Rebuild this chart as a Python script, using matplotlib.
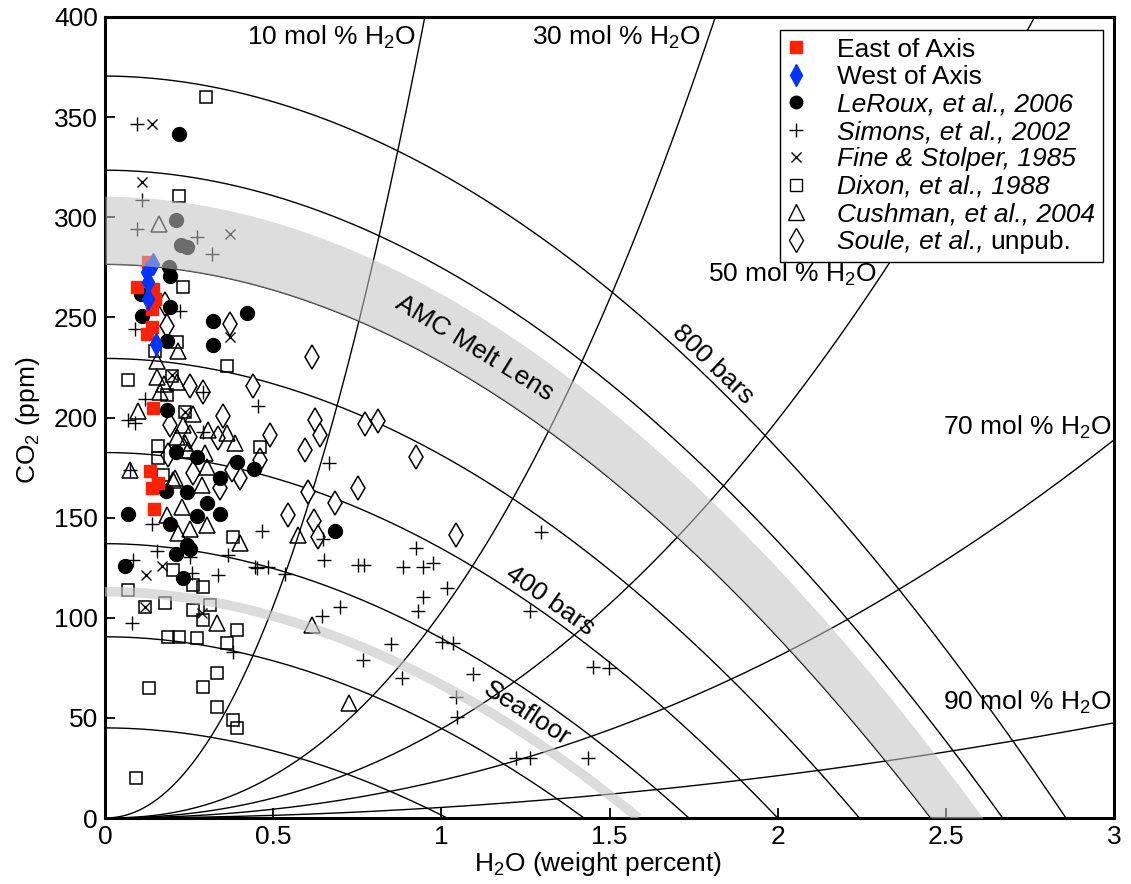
import numpy as np
import matplotlib
matplotlib.use('Agg')
import matplotlib.pyplot as plt
from matplotlib.lines import Line2D
import matplotlib.transforms as mtransforms

plt.rcParams['font.family'] = ['Liberation Sans', 'DejaVu Sans']
plt.rcParams['mathtext.fontset'] = 'custom'
plt.rcParams['mathtext.rm'] = 'Liberation Sans'
plt.rcParams['mathtext.it'] = 'Liberation Sans:italic'
plt.rcParams['mathtext.bf'] = 'Liberation Sans:bold'
FS = 19

# ---------------- model reference curves ----------------
isobar_bars = [100, 200, 300, 400, 500, 600, 700, 800]
isobar_co2_at_zero_h2o = [45, 90.5, 137, 182.5, 229.5, 276.5, 323.5, 370.5]
isobar_h2o_at_zero_co2 = [1.017, 1.424, 1.736, 2.0, 2.243, 2.455, 2.669, 2.857]
isobar_shape_exp = 1.93

isopleth_mol_pct = [10, 30, 50, 70, 90]
isopleth_coef = [444.0, 102.8, 44.5, 18.8, 5.28]
isopleth_exp = [2.07, 2.28, 2.16, 2.10, 2.0]

amc_band_low = (276.5, 2.455)
amc_band_high = (310.5, 2.61)
seafloor_curve = (113.0, 1.586)

# ---------------- data ----------------
east_h2o = [0.128, 0.095, 0.143, 0.149, 0.140, 0.140, 0.125, 0.143, 0.134, 0.158, 0.140, 0.146]
east_co2 = [277.5, 265, 264, 259, 254, 245, 241.5, 204.5, 173.5, 167.5, 165, 154.5]

west_h2o = [0.143, 0.125, 0.128, 0.128, 0.152]
west_co2 = [276.5, 272.5, 267.5, 259, 236.5]

leroux_h2o = [0.220, 0.211, 0.226, 0.244, 0.190, 0.193, 0.107, 0.193, 0.110, 0.321, 0.422,
              0.321, 0.184, 0.184, 0.211, 0.274, 0.392, 0.443, 0.342, 0.181, 0.244, 0.303,
              0.068, 0.274, 0.342, 0.193, 0.684, 0.244, 0.253, 0.211, 0.059, 0.232]
leroux_co2 = [341.5, 298.5, 286, 285, 275, 270.5, 261.5, 255, 250.5, 248, 252,
              236, 238, 203.5, 183, 180.5, 178, 174.5, 170, 163.5, 163, 157.5,
              152, 151, 152, 147, 143.5, 136.5, 134.5, 132, 126, 120]

simons_h2o = [0.095, 0.110, 0.095, 0.273, 0.318, 0.223, 0.089, 0.455, 0.119, 0.291, 0.068,
              0.089, 0.291, 0.074, 0.666, 0.140, 0.467, 0.648, 0.155, 0.253, 0.366, 0.083,
              0.446, 0.452, 0.485, 0.535, 0.651, 0.259, 0.336, 0.080, 0.699, 0.645, 0.380,
              0.752, 0.770, 0.886, 0.925, 0.946, 0.975, 1.017, 0.946, 0.931, 0.767, 0.850,
              0.883, 1.002, 1.035, 1.094, 1.044, 1.047, 1.264, 1.222, 1.264, 1.436, 1.451,
              1.499, 1.296]
simons_co2 = [346.5, 308.5, 294, 290, 281.5, 253, 244, 205.5, 209, 212.5, 199,
              197.5, 193, 174, 177.5, 147, 143.5, 139.5, 133.5, 130.5, 131.5, 129,
              125.5, 125, 125.5, 122, 129, 122.5, 121.5, 97.5, 105.5, 101, 83,
              126.5, 126.5, 125.5, 135, 125.5, 127.5, 115, 110.5, 103.5, 79, 87,
              70, 88, 87.5, 72, 60.5, 50.5, 103.5, 30, 30, 30, 75.5,
              75, 143]

fine_h2o = [0.140, 0.110, 0.372, 0.372, 0.200, 0.170, 0.122, 0.288, 0.119, 0.238]
fine_co2 = [346.5, 317.5, 291.5, 240, 221, 126, 121.5, 102.5, 105.5, 202.5]

dixon_h2o = [0.300, 0.220, 0.232, 0.214, 0.149, 0.363, 0.068, 0.199, 0.184, 0.238, 0.158,
             0.461, 0.158, 0.172, 0.381, 0.202, 0.262, 0.291, 0.068, 0.119, 0.178, 0.312,
             0.262, 0.291, 0.392, 0.187, 0.220, 0.274, 0.363, 0.333, 0.131, 0.291, 0.333,
             0.381, 0.392, 0.092]
dixon_co2 = [360, 310.5, 265, 237.5, 233, 225.5, 218.5, 220.5, 211, 202.5, 186,
             185.5, 180, 171.5, 140.5, 124, 116.5, 115.5, 114, 105.5, 107.5, 106.5,
             104, 99, 94, 90.5, 90.5, 90, 87.5, 72.5, 65, 65.5, 55.5,
             49, 45, 20]

cushman_h2o = [0.161, 0.217, 0.155, 0.155, 0.214, 0.175, 0.164, 0.098, 0.262, 0.232, 0.306,
               0.363, 0.387, 0.214, 0.238, 0.247, 0.297, 0.074, 0.303, 0.208, 0.288, 0.202,
               0.184, 0.229, 0.217, 0.253, 0.303, 0.574, 0.401, 0.333, 0.616, 0.726]
cushman_co2 = [296.5, 233, 228, 220, 217.5, 216.5, 212.5, 203, 201.5, 196.5, 194,
               192.5, 187.5, 190.5, 187.5, 184, 182.5, 174, 175.5, 170, 166.5, 169,
               151.5, 155.5, 142.5, 144.5, 146.5, 141.5, 137.5, 97.5, 96.5, 57.5]

soule_h2o = [0.616, 0.178, 0.372, 0.184, 0.253, 0.291, 0.440, 0.351, 0.193, 0.336, 0.491,
             0.253, 0.624, 0.639, 0.595, 0.461, 0.187, 0.262, 0.401, 0.378, 0.342, 0.604,
             0.544, 0.621, 0.684, 0.633, 0.773, 0.812, 0.925, 0.752, 1.044]
soule_co2 = [230, 256.5, 246.5, 245.5, 215.5, 212.5, 215.5, 200.5, 196.5, 190, 191.5,
             190.5, 199, 191.5, 184, 179, 181.5, 172.5, 170, 174, 165, 163,
             151.5, 148.5, 157.5, 140.5, 197, 198.5, 180.5, 165, 141.5]

# ---------------- figure ----------------
W_PX, H_PX = 1131, 884
fig = plt.figure(figsize=(W_PX / 100, H_PX / 100), dpi=100)
ax = fig.add_axes([105 / W_PX, 66 / H_PX, 1009 / W_PX, 801 / H_PX])
ax.set_xlim(0, 3)
ax.set_ylim(0, 400)


def isobar(C, W, h):
    return C * (1 - np.clip(h / W, 0, None) ** isobar_shape_exp)


for C, W in zip(isobar_co2_at_zero_h2o, isobar_h2o_at_zero_co2):
    h = np.linspace(0, W, 400)
    ax.plot(h, isobar(C, W, h), color='black', lw=1.0, zorder=2)

hh = np.linspace(0, 3, 600)
for k, n in zip(isopleth_coef, isopleth_exp):
    ax.plot(hh, k * hh ** n, color='black', lw=1.0, zorder=2)

# scatter data
ax.plot(soule_h2o, soule_co2, ls='none', marker='d', ms=12, mfc='white', mec='black', mew=1.1, zorder=3)
ax.plot(cushman_h2o, cushman_co2, ls='none', marker='^', ms=12, mfc='none', mec='black', mew=1.1, zorder=3)
ax.plot(dixon_h2o, dixon_co2, ls='none', marker='s', ms=9, mfc='none', mec='black', mew=1.1, zorder=3)
ax.plot(fine_h2o, fine_co2, ls='none', marker='x', ms=7.5, mec='black', mew=1.0, zorder=3)
ax.plot(simons_h2o, simons_co2, ls='none', marker='+', ms=10.5, mec='black', mew=1.0, zorder=3)
ax.plot(leroux_h2o, leroux_co2, ls='none', marker='o', ms=10, mfc='black', mec='black', zorder=3)
ax.plot(east_h2o, east_co2, ls='none', marker='s', ms=9, mfc='#ff2200', mec='#ff2200', zorder=3.2)
ax.plot(west_h2o, west_co2, ls='none', marker='d', ms=11, mfc='#0033ff', mec='#0033ff', zorder=3.3)

# AMC melt lens band (semi-transparent, over everything)
hb = np.linspace(0, amc_band_high[1], 500)
lo = np.clip(isobar(amc_band_low[0], amc_band_low[1], hb), 0, None)
hi = np.clip(isobar(amc_band_high[0], amc_band_high[1], hb), 0, None)
ax.fill_between(hb, lo, hi, color=(0.77, 0.77, 0.77), alpha=0.56, lw=0, zorder=5)

# seafloor curve
hs = np.linspace(0, seafloor_curve[1], 300)
ax.plot(hs, isobar(seafloor_curve[0], seafloor_curve[1], hs), color=(0.78, 0.78, 0.78),
        alpha=0.62, lw=7, solid_capstyle='butt', zorder=5)


def curve_label(text, h0, C, W, off_px):
    y0 = isobar(C, W, h0)
    dh = 1e-3
    y1 = isobar(C, W, h0 + dh)
    p0 = ax.transData.transform((h0, y0))
    p1 = ax.transData.transform((h0 + dh, y1))
    d = p1 - p0
    ang = np.degrees(np.arctan2(d[1], d[0]))
    nv = np.array([-d[1], d[0]]) / np.hypot(*d)
    pt = ax.transData.inverted().transform(p0 + nv * off_px)
    ax.text(pt[0], pt[1], text, rotation=ang, rotation_mode='anchor',
            ha='center', va='center', fontsize=FS, zorder=6)


curve_label('AMC Melt Lens', 1.10, (amc_band_low[0] + amc_band_high[0]) / 2,
            (amc_band_low[1] + amc_band_high[1]) / 2, 0)
curve_label('800 bars', 1.78, isobar_co2_at_zero_h2o[7], isobar_h2o_at_zero_co2[7], 13)
curve_label('400 bars', 1.30, isobar_co2_at_zero_h2o[3], isobar_h2o_at_zero_co2[3], 13)
curve_label('Seafloor', 1.224, seafloor_curve[0], seafloor_curve[1], 18)

iso_label_pos = [(0.925, 390), (1.772, 390), (2.296, 271.5), (2.993, 195), (2.993, 57.5)]
for pct, (xp, yp) in zip(isopleth_mol_pct, iso_label_pos):
    ax.text(xp, yp, f'{pct} mol % H$_2$O', ha='right', va='center', fontsize=FS, zorder=6)

# axes styling
ax.set_xticks([0, 0.5, 1, 1.5, 2, 2.5, 3])
ax.set_xticklabels(['0', '0.5', '1', '1.5', '2', '2.5', '3'])
ax.set_yticks(np.arange(0, 401, 50))
ax.tick_params(direction='in', length=7, width=1.3, labelsize=FS, top=False, right=False)
ax.tick_params(axis='x', pad=5)
ax.tick_params(axis='y', pad=5)
for s in ax.spines.values():
    s.set_linewidth(2.2)

fig.text(598 / W_PX, 1 - 864 / H_PX, 'H$_2$O (weight percent)', ha='center', va='center', fontsize=FS)
fig.text(28 / W_PX, 1 - 420 / H_PX, 'CO$_2$ (ppm)', ha='center', va='center', rotation=90, fontsize=FS)

handles = [
    Line2D([], [], ls='none', marker='s', ms=8, mfc='#ff2200', mec='#ff2200'),
    Line2D([], [], ls='none', marker='d', ms=11, mfc='#0033ff', mec='#0033ff'),
    Line2D([], [], ls='none', marker='o', ms=9, mfc='black', mec='black'),
    Line2D([], [], ls='none', marker='+', ms=10, mec='black', mew=1.0),
    Line2D([], [], ls='none', marker='x', ms=7, mec='black', mew=1.0),
    Line2D([], [], ls='none', marker='s', ms=8.5, mfc='none', mec='black', mew=1.0),
    Line2D([], [], ls='none', marker='^', ms=11, mfc='none', mec='black', mew=1.0),
    Line2D([], [], ls='none', marker='d', ms=12, mfc='none', mec='black', mew=1.0),
]
labels = ['East of Axis', 'West of Axis', 'LeRoux, et al., 2006', 'Simons, et al., 2002',
          'Fine & Stolper, 1985', 'Dixon, et al., 1988', 'Cushman, et al., 2004',
          'Soule, et al.,']
leg = ax.legend(handles, labels, loc='upper left', bbox_to_anchor=(0.669, 0.984),
                fontsize=FS, frameon=True, fancybox=False, borderpad=0.3,
                handlelength=0.6, handletextpad=1.26, labelspacing=0.13,
                borderaxespad=0, framealpha=1)
leg.get_frame().set_edgecolor('black')
leg.get_frame().set_linewidth(1.0)
leg.set_zorder(10)
for t in leg.get_texts()[2:8]:
    t.set_fontstyle('italic')

# non-italic "unpub." appended after the italic Soule label
fig.canvas.draw()
renderer = fig.canvas.get_renderer()
t_soule = leg.get_texts()[7]
bb = t_soule.get_window_extent(renderer)
ref_t = leg.get_texts()[6]
bx, by = t_soule.get_transform().transform(t_soule.get_position())
fig.text(bb.x1 + 6, by, 'unpub.', transform=mtransforms.IdentityTransform(),
         ha='left', va=t_soule.get_va(), fontsize=FS, zorder=11)

fig.savefig('out.png', dpi=100)
